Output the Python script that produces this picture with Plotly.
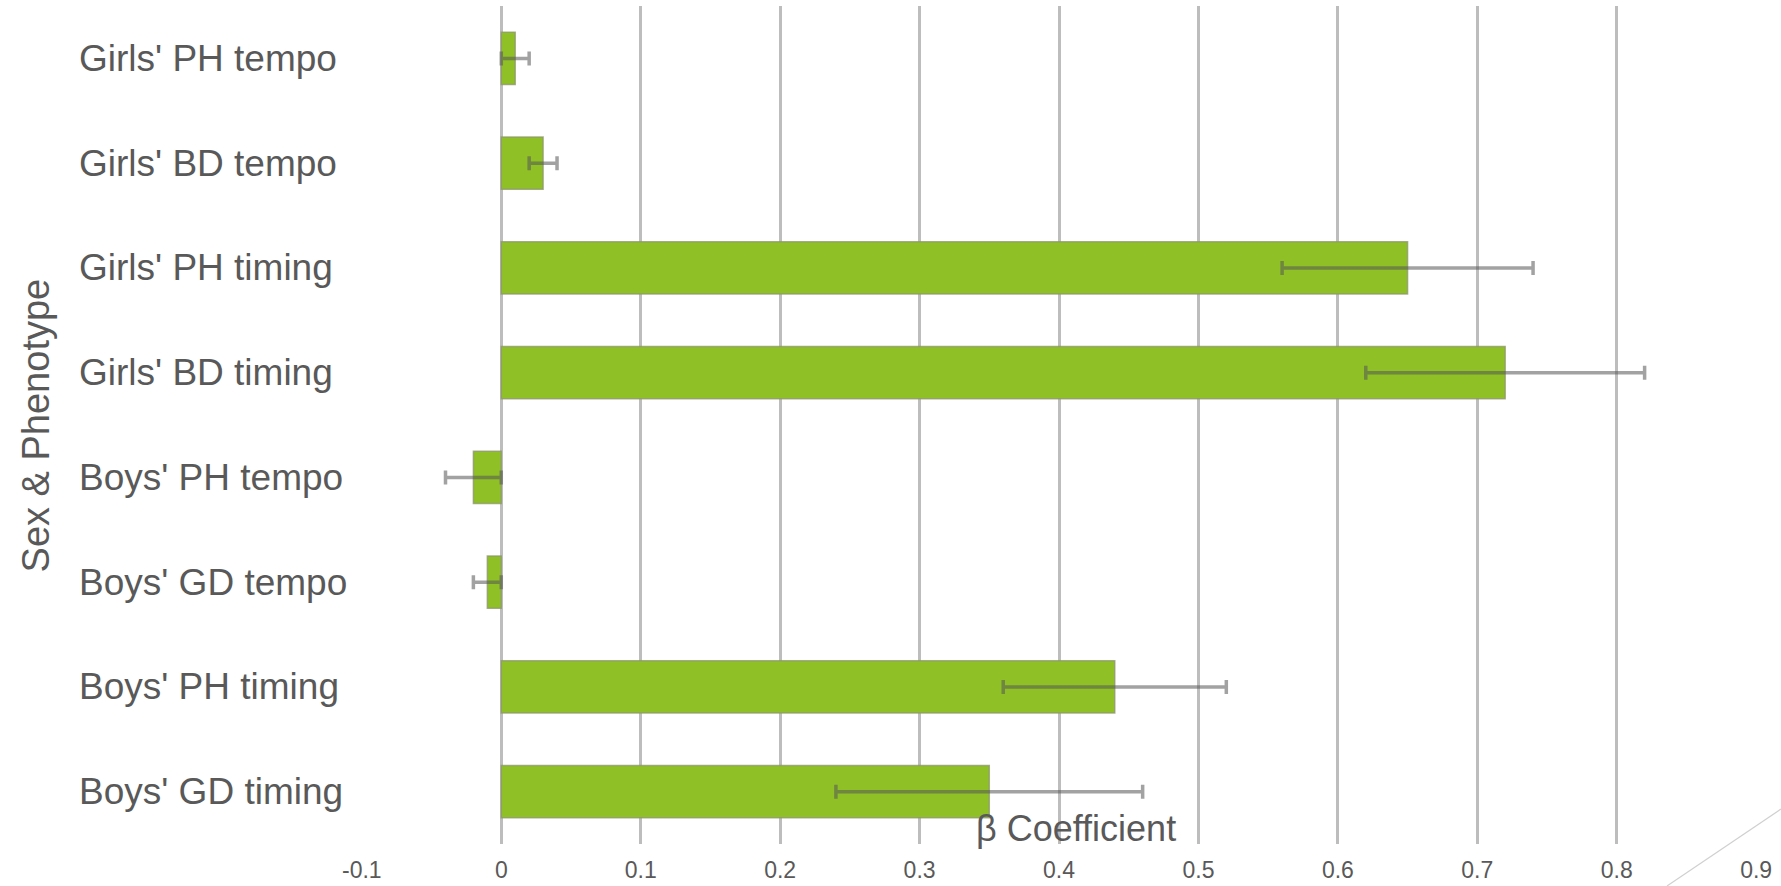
import plotly.graph_objects as go

# Regression coefficients (beta) with 95% confidence limits, listed top to bottom
categories = [
    "Girls' PH tempo",
    "Girls' BD tempo",
    "Girls' PH timing",
    "Girls' BD timing",
    "Boys' PH tempo",
    "Boys' GD tempo",
    "Boys' PH timing",
    "Boys' GD timing",
]
beta = [0.01, 0.03, 0.65, 0.72, -0.02, -0.01, 0.44, 0.35]
ci_low = [0.00, 0.02, 0.56, 0.62, -0.04, -0.02, 0.36, 0.24]
ci_high = [0.02, 0.04, 0.74, 0.82, 0.00, 0.00, 0.52, 0.46]

x_tick_values = [-0.1, 0, 0.1, 0.2, 0.3, 0.4, 0.5, 0.6, 0.7, 0.8, 0.9]
x_tick_labels = ["-0.1", "0", "0.1", "0.2", "0.3", "0.4", "0.5", "0.6", "0.7", "0.8", "0.9"]

err_plus = [h - b for h, b in zip(ci_high, beta)]
err_minus = [b - l for b, l in zip(beta, ci_low)]

FONT = "Liberation Sans, Arial, sans-serif"
TEXT = "#595959"
GRID = "#bdbdbd"

fig = go.Figure()
fig.add_trace(go.Bar(
    x=beta,
    y=categories,
    orientation="h",
    marker=dict(color="#8fc026", line=dict(color="rgba(140,150,110,0.75)", width=1.5)),
    error_x=dict(
        type="data",
        symmetric=False,
        array=err_plus,
        arrayminus=err_minus,
        color="rgba(85,85,85,0.55)",
        thickness=3.5,
        width=7,
    ),
    hoverinfo="x+y",
))

# Category labels, left-aligned in the gutter
annotations = [
    dict(text=c, x=-0.2034, xref="paper", y=c, yref="y", xanchor="left",
         yanchor="middle", showarrow=False, font=dict(family=FONT, size=37, color=TEXT))
    for c in categories
]
# Axis titles
annotations.append(dict(text="Sex & Phenotype", x=-0.2325, xref="paper", y=0.5, yref="paper",
                        textangle=-90, xanchor="center", yanchor="middle", showarrow=False,
                        font=dict(family=FONT, size=38, color=TEXT)))
annotations.append(dict(text="β Coefficient", x=0.512, xref="paper", y=0.019, yref="paper",
                        xanchor="center", yanchor="middle", showarrow=False,
                        font=dict(family=FONT, size=36, color=TEXT)))

fig.update_layout(
    width=1781,
    height=886,
    margin=dict(l=361, r=24, t=6, b=42, autoexpand=False),
    paper_bgcolor="white",
    plot_bgcolor="white",
    showlegend=False,
    bargap=0.5,
    annotations=annotations,
    shapes=[dict(type="line", xref="paper", yref="paper",
                 x0=(1667 - 361) / 1396, y0=(844 - 886) / 838,
                 x1=(1781 - 361) / 1396, y1=(844 - 809) / 838,
                 line=dict(color="#d0d0d0", width=1.2))],
    xaxis=dict(
        range=[-0.1006, 0.9006],
        tickvals=x_tick_values,
        ticktext=x_tick_labels,
        showgrid=True,
        gridcolor=GRID,
        gridwidth=3,
        zeroline=False,
        showline=False,
        ticks="",
        automargin=False,
        ticklabelstandoff=10,
        tickfont=dict(family=FONT, size=23, color=TEXT),
    ),
    yaxis=dict(
        autorange="reversed",
        showticklabels=False,
        showgrid=False,
        zeroline=False,
        showline=False,
        ticks="",
        automargin=False,
    ),
)

fig.write_html("out.html")
